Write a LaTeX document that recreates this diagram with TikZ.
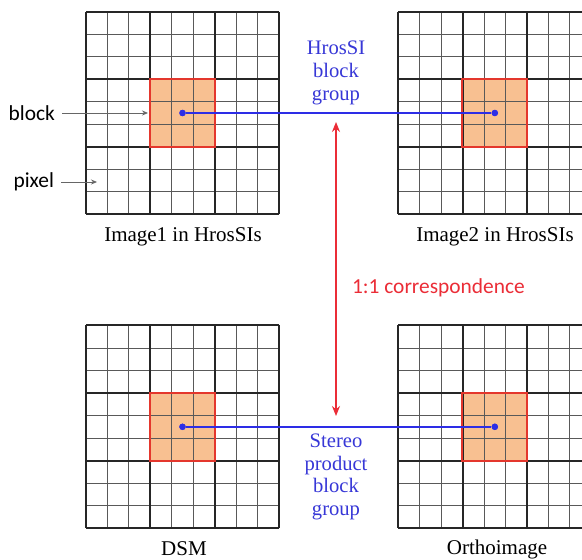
\documentclass[tikz,border=0pt]{standalone}
\usepackage{fontspec}
\setmainfont{Liberation Serif}
\setsansfont{Carlito}
\usetikzlibrary{positioning,arrows.meta}

\definecolor{lineblue}{RGB}{45,45,230}
\definecolor{textblue}{RGB}{55,55,215}
\definecolor{corrred}{RGB}{235,45,55}
\definecolor{blockorange}{RGB}{248,192,145}
\definecolor{blockred}{RGB}{228,55,45}

\tikzset{
  cellline/.style={black!65, line width=0.5pt},
  blockline/.style={black!85, line width=1pt},
  blockfill/.style={fill=blockorange, inner sep=0pt, minimum width=64.3pt/2, minimum height=67.5pt/2},
  centre/.style={circle, fill=lineblue, inner sep=0pt, minimum size=3.2pt},
  link/.style={lineblue, line width=0.7pt},
  caption/.style={font=\fontsize{10.5}{12}\selectfont},
  note/.style={textblue, align=center, font=\fontsize{10.3}{11.3}\selectfont},
  tag/.style={font=\sffamily\fontsize{10.7}{12}\selectfont},
  pointer/.style={-{Stealth[length=3pt,width=2.5pt]}, black!60, line width=0.4pt},
}

% 9x9 pixel grid, top left corner at (#2,#3), middle block named #1
\newcommand{\pixgrid}[3]{
  \begin{scope}[shift={(#2,#3)}]
    \node[blockfill] (#1) at (96.5,101.3) {};
    \node[centre] (#1c) at (#1.center) {};
    \foreach \i in {0,...,9} {
      \draw[cellline] (\i*21.44,0) -- (\i*21.44,202.6);
      \draw[cellline] (0,\i*22.51) -- (193,\i*22.51);
    }
    \foreach \i in {0,3,6,9} {
      \draw[blockline] (\i*21.44,0) -- (\i*21.44,202.6);
      \draw[blockline] (0,\i*22.51) -- (193,\i*22.51);
    }
    \draw[blockred, line width=1pt] (#1.north west) rectangle (#1.south east);
  \end{scope}
}

\begin{document}
\begin{tikzpicture}[x=0.5pt,y=-0.5pt]
  \clip (0,0) rectangle (582,560);
  \fill[white] (0,0) rectangle (582,560);

  \pixgrid{img1}{86}{11.7}
  \pixgrid{img2}{398.3}{11.7}
  \pixgrid{dsm}{86}{325.5}
  \pixgrid{ortho}{398.3}{325.5}

  % block groups
  \draw[link] (img1c) -- (img2c);
  \draw[link] (dsmc) -- (orthoc);
  \node[centre] at (img1c) {};
  \node[centre] at (img2c) {};
  \node[centre] at (dsmc) {};
  \node[centre] at (orthoc) {};

  \node[note] (hrosgroup) at (336,73) {HrosSI\\block\\group};
  \node[note] (stereogroup) at (336,477) {Stereo\\product\\block\\group};

  % correspondence
  \coordinate (corrtop) at (336,122);
  \coordinate (corrbot) at (336,416);
  \draw[corrred, line width=0.7pt, {Stealth[length=5pt,width=4pt]}-{Stealth[length=5pt,width=4pt]}] (corrbot) -- (corrtop);
  \node[tag, corrred, anchor=west] (corr) at (345,288) {1:1 correspondence};

  % captions
  \node[caption] (cap1) at (183,237) {Image1 in HrosSIs};
  \node[caption] (cap2) at (495,237) {Image2 in HrosSIs};
  \node[caption] (cap3) at (184,549) {DSM};
  \node[caption] (cap4) at (497,549) {Orthoimage};

  % legend pointers
  \node[tag, anchor=east] (blocktag) at (62,113) {block};
  \node[tag, anchor=east] (pixeltag) at (61,182) {pixel};
  \coordinate (blockend) at (148,113);
  \coordinate (pixelend) at (97,182);
  \draw[pointer] (blocktag) -- (blockend);
  \draw[pointer] (pixeltag) -- (pixelend);
\end{tikzpicture}
\end{document}
